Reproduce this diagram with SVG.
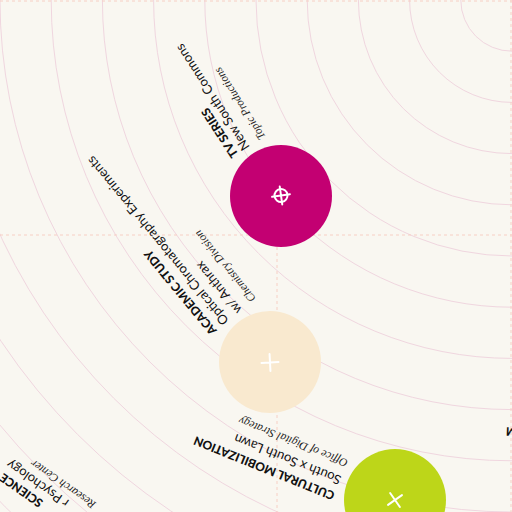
<svg xmlns="http://www.w3.org/2000/svg" width="512" height="512" viewBox="0 0 512 512">
<style>
.arc{fill:none;stroke:#f0d6df;stroke-width:1}
.dash{fill:none;stroke:#f7cfc4;stroke-width:1;stroke-dasharray:3 3}
.t{font-family:Lato,"Liberation Sans",sans-serif;font-weight:900;font-size:12px;fill:#111}
.s{font-family:Lato,"Liberation Sans",sans-serif;font-weight:400;font-size:13px;fill:#111}
.i{font-family:"Liberation Serif",serif;font-style:italic;font-size:11.5px;fill:#222}
.ic{fill:none;stroke:#fff;stroke-width:2;stroke-linecap:round}
</style>
<rect width="512" height="512" fill="#f9f7f1"/>
<g id="grid">
<circle class="arc" cx="512" cy="0" r="51.2"/>
<circle class="arc" cx="512" cy="0" r="102.4"/>
<circle class="arc" cx="512" cy="0" r="153.6"/>
<circle class="arc" cx="512" cy="0" r="204.8"/>
<circle class="arc" cx="512" cy="0" r="256"/>
<circle class="arc" cx="512" cy="0" r="307.2"/>
<circle class="arc" cx="512" cy="0" r="358.4"/>
<circle class="arc" cx="512" cy="0" r="409.6"/>
<circle class="arc" cx="512" cy="0" r="460.8"/>
<circle class="arc" cx="512" cy="0" r="512"/>
<circle class="arc" cx="512" cy="0" r="563.2"/>
<circle class="arc" cx="512" cy="0" r="614.4"/>
<circle class="arc" cx="512" cy="0" r="665.6"/>
<circle class="arc" cx="512" cy="0" r="716.8"/>
<line class="dash" x1="0" y1="1" x2="512" y2="1"/>
<line class="dash" x1="511" y1="0" x2="511" y2="512"/>
<line class="dash" x1="0" y1="235" x2="512" y2="235"/>
<line class="dash" x1="277" y1="235" x2="277" y2="512"/>
</g>
<g id="connectors"></g>
<g id="node-tv-series">
<circle cx="281" cy="196" r="51" fill="#c30072"/>
<g transform="translate(281,195.5) rotate(-8)" class="ic"><circle r="6.5"/><path d="M-9 0H9M0 -9V9"/></g>
<g transform="translate(281,196) rotate(-123)">
<text class="t" x="58" y="-12.7">TV SERIES</text>
<text class="s" x="58" y="0.7">New South Commons</text>
<text class="i" x="58" y="19.5">Topic Productions</text>
</g>
</g>
<g id="node-academic-study">
<circle cx="270" cy="362" r="51" fill="#f9e9cf"/>
<g transform="translate(270,362.5) rotate(-3)" class="ic"><path d="M-8.5 0H8.5M0 -8.5V8.5"/></g>
<g transform="translate(270,362) rotate(-129.5)">
<text class="t" x="58" y="-20.7">ACADEMIC STUDY</text>
<text class="s" x="58" y="-5">Optical Chromatography Experiments</text>
<text class="s" x="58" y="12">w/ Anthrax</text>
<text class="i" x="58" y="30">Chemistry Division</text>
</g>
</g>
<g id="node-cultural-mobilization">
<circle cx="395" cy="500" r="51" fill="#bdd619"/>
<g transform="translate(395,500) rotate(-35)" class="ic"><path d="M-8.5 0H8.5M0 -8.5V8.5"/></g>
<g transform="translate(395,500) rotate(-158)">
<text class="t" x="58" y="-15.2">CULTURAL MOBILIZATION</text>
<text class="s" x="58" y="2">South x South Lawn</text>
<text class="i" x="58" y="19.5">Office of Digital Strategy</text>
</g>
</g>
<g id="node-science">
<g transform="translate(9.15,461.36) rotate(-145)">
<text class="t" x="-2" y="-12.5" text-anchor="end">SCIENCE</text>
<text class="s" x="0" y="2.5" text-anchor="end">r Psychology</text>
<text class="i" x="-19" y="16" text-anchor="end">Research Center</text>
</g>
</g>
<g id="node-offscreen">
<text class="t" transform="translate(506,427) rotate(-178)" text-anchor="end">M</text>
</g>
</svg>
